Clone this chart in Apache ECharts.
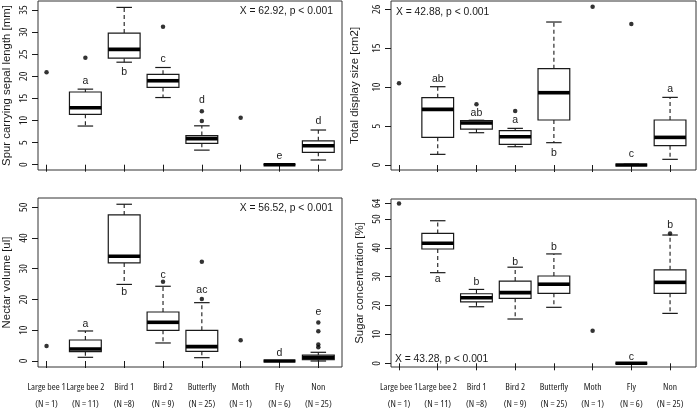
<!DOCTYPE html>
<html>
<head>
<meta charset="utf-8">
<script src="https://cdn.jsdelivr.net/npm/echarts@6/dist/echarts.min.js"></script>
<style>
html,body{margin:0;padding:0;background:#fff;}
#chart{width:698px;height:416px;}
</style>
</head>
<body>
<div id="chart"></div>
<script>
// ---------- data ----------
const categories = ['Large bee 1', 'Large bee 2', 'Bird 1', 'Bird 2', 'Butterfly', 'Moth', 'Fly', 'Non'];
const sampleLabels = ['(N = 1)', '(N = 11)', '(N =8)', '(N = 9)', '(N = 25)', '(N = 1)', '(N = 6)', '(N = 25)'];

// boxes: [lower whisker, Q1, median, Q3, upper whisker]; null = single observation only
const spurBoxes = [null, [8.75, 11.4, 12.9, 16.45, 17.1], [23.2, 24.1, 26.1, 29.8, 35.6], [15.2, 17.5, 19.0, 20.45, 22.0],
  [3.3, 4.84, 5.9, 6.6, 8.8], null, [0, 0, 0, 0, 0], [1.06, 2.8, 4.3, 5.4, 7.85]];
const spurPoints = [[20.9], [24.2], [], [31.2], [9.9, 12.1], [10.6], [], []];
const spurLetters = ['', 'a', 'b', 'c', 'd', '', 'e', 'd'];
const spurLetterY = [null, 18.9, 21.0, 23.9, 14.6, null, 2.0, 9.9];
const spurTicks = [0, 5, 10, 15, 20, 25, 30, 35];
const spurTickLabels = ['0', '5', '10', '15', '20', '25', '30', '35'];
const spurStat = 'X = 62.92, p < 0.001';

// display axis is broken: top tick is labelled 26
const displayBoxes = [null, [1.37, 3.56, 7.15, 8.65, 10.06], [4.15, 4.62, 5.4, 5.7, 5.75], [2.35, 2.66, 3.64, 4.41, 4.71],
  [2.87, 5.78, 9.29, 12.37, 18.37], null, [0, 0, 0, 0, 0.1], [0.73, 2.48, 3.55, 5.78, 8.69]];
const displayPoints = [[10.5], [], [7.8], [6.94], [], [20.33], [18.1], []];
const displayLetters = ['', 'ab', 'ab', 'a', 'b', '', 'c', 'a'];
const displayLetterY = [null, 11.05, 6.64, 5.78, 1.58, null, 1.37, 9.72];
const displayTicks = [0, 5, 10, 15, 20];
const displayTickLabels = ['0', '5', '10', '15', '26'];
const displayStat = 'X = 42.88, p < 0.001';

const nectarBoxes = [null, [1.2, 3.03, 3.9, 6.83, 9.76], [24.9, 31.9, 34.06, 47.5, 50.97], [5.86, 9.97, 12.58, 15.94, 24.3],
  [1.08, 3.15, 4.66, 9.97, 18.97], null, [0, 0, 0, 0, 0], [0, 0.44, 1.2, 1.95, 2.83]];
const nectarPoints = [[4.88], [], [], [25.8], [20.2, 32.3], [6.72], [], [4.5, 5.4, 9.7, 12.5]];
const nectarLetters = ['', 'a', 'b', 'c', 'ac', '', 'd', 'e'];
const nectarLetterY = [null, 12.0, 22.5, 28.0, 22.9, null, 2.5, 16.0];
const nectarTicks = [0, 10, 20, 30, 40, 50];
const nectarTickLabels = ['0', '10', '20', '30', '40', '50'];
const nectarStat = 'X = 56.52, p < 0.001';

// sugar axis is broken: top tick (labelled 64) sits just above 50
const sugarBoxes = [null, [31.4, 39.6, 41.6, 45.0, 49.4], [19.6, 21.3, 22.7, 24.1, 25.6], [15.35, 22.5, 24.5, 28.5, 33.3],
  [19.4, 24.25, 27.4, 30.25, 37.9], null, [0, 0, 0, 0, 0], [17.3, 24.25, 28.05, 32.4, 44.45]];
const sugarPoints = [[55.4], [], [], [], [], [11.3], [], [45.0]];
const sugarLetters = ['', 'a', 'b', 'b', 'b', '', 'c', 'b'];
const sugarLetterY = [null, 29.2, 28.1, 35.2, 40.2, null, 2.3, 47.9];
const sugarTicks = [0, 10, 20, 30, 40, 50, 55.4];
const sugarTickLabels = ['0', '10', '20', '30', '40', '50', '64'];
const sugarStat = 'X = 43.28, p < 0.001';

const yNames = ['Spur carrying sepal length [mm]', 'Total display size [cm2]', 'Nectar volume [ul]', 'Sugar concentration [%]'];

// ---------- chart ----------
const FONT = '"Liberation Sans", Arial, sans-serif';
const NARROW = '"Open Sans", "Liberation Sans", sans-serif';
const INK = '#1a1a1a';
const xTicks = categories.map((c, i) => i + 1);
// a leading blank label absorbs ECharts' min-label overlap check
const xLabelValues = [0.9].concat(xTicks);

const panels = [
  {boxes: spurBoxes, points: spurPoints, letters: spurLetters, letterY: spurLetterY, ticks: spurTicks, tickLabels: spurTickLabels,
   grid: {left: 38, top: 1, width: 304, height: 169}, xr: [0.78, 8.61], yr: [-1.2, 37.05], xl: false, name: yNames[0], nameGap: 26},
  {boxes: displayBoxes, points: displayPoints, letters: displayLetters, letterY: displayLetterY, ticks: displayTicks, tickLabels: displayTickLabels,
   grid: {left: 391, top: 1, width: 305, height: 169}, xr: [0.793, 8.67], yr: [-0.64, 21.07], xl: false, name: yNames[1], nameGap: 31},
  {boxes: nectarBoxes, points: nectarPoints, letters: nectarLetters, letterY: nectarLetterY, ticks: nectarTicks, tickLabels: nectarTickLabels,
   grid: {left: 38, top: 198, width: 304, height: 169}, xr: [0.78, 8.61], yr: [-1.95, 53.0], xl: true, name: yNames[2], nameGap: 26},
  {boxes: sugarBoxes, points: sugarPoints, letters: sugarLetters, letterY: sugarLetterY, ticks: sugarTicks, tickLabels: sugarTickLabels,
   grid: {left: 391, top: 199, width: 305, height: 168}, xr: [0.793, 8.67], yr: [-1.28, 56.93], xl: true, name: yNames[3], nameGap: 26}
];

function renderBox(params, api) {
  const x = api.value(0);
  const lo = api.value(1), q1 = api.value(2), med = api.value(3), q3 = api.value(4), hi = api.value(5);
  const half = api.size([0.41, 0])[0];
  const cap = api.size([0.2, 0])[0];
  const pLo = api.coord([x, lo]), pQ1 = api.coord([x, q1]), pMed = api.coord([x, med]);
  const pQ3 = api.coord([x, q3]), pHi = api.coord([x, hi]);
  const cx = pMed[0];
  const lineStyle = {stroke: INK, lineWidth: 1.2};
  const dashStyle = {stroke: INK, lineWidth: 1.1, lineDash: [4, 3]};
  return {
    type: 'group',
    children: [
      {type: 'line', shape: {x1: cx, y1: pQ3[1], x2: cx, y2: pHi[1]}, style: dashStyle},
      {type: 'line', shape: {x1: cx, y1: pQ1[1], x2: cx, y2: pLo[1]}, style: dashStyle},
      {type: 'line', shape: {x1: cx - cap, y1: pHi[1], x2: cx + cap, y2: pHi[1]}, style: lineStyle},
      {type: 'line', shape: {x1: cx - cap, y1: pLo[1], x2: cx + cap, y2: pLo[1]}, style: lineStyle},
      {type: 'rect', shape: {x: cx - half, y: pQ3[1], width: half * 2, height: pQ1[1] - pQ3[1]},
       style: {fill: '#fff', stroke: INK, lineWidth: 1.2}},
      {type: 'line', shape: {x1: cx - half, y1: pMed[1], x2: cx + half, y2: pMed[1]}, style: {stroke: '#000', lineWidth: 3.6}}
    ]
  };
}

function renderLetter(params, api, texts) {
  const p = api.coord([api.value(0), api.value(1)]);
  return {
    type: 'text', x: p[0], y: p[1],
    style: {text: texts[params.dataIndex], textAlign: 'center', textVerticalAlign: 'middle',
            fill: INK, font: '10.5px ' + FONT}
  };
}

function xLabel(v) {
  const i = Math.round(v) - 1;
  if (Math.abs(v - Math.round(v)) > 1e-6 || i < 0 || i >= categories.length) return '';
  return categories[i] + '\n' + sampleLabels[i];
}

const grids = [], xAxes = [], yAxes = [], series = [];
panels.forEach((pn, k) => {
  grids.push(Object.assign({show: true, borderColor: '#333', borderWidth: 1, backgroundColor: '#fff'}, pn.grid));
  xAxes.push({
    type: 'value', gridIndex: k, min: pn.xr[0], max: pn.xr[1],
    axisLine: {show: false}, splitLine: {show: false},
    axisTick: {show: true, customValues: xTicks, length: 7, lineStyle: {color: INK}},
    axisLabel: {show: pn.xl, customValues: xLabelValues, showMinLabel: false, showMaxLabel: true, hideOverlap: false,
      margin: 12, fontFamily: NARROW, fontWeight: 'condensed', fontSize: 9.6, lineHeight: 17, color: INK, formatter: xLabel}
  });
  yAxes.push({
    type: 'value', gridIndex: k, min: pn.yr[0], max: pn.yr[1],
    name: pn.name, nameLocation: 'middle', nameGap: pn.nameGap, nameRotate: 90,
    nameTextStyle: {fontFamily: FONT, fontSize: 11.4, color: INK},
    axisLine: {show: false}, splitLine: {show: false},
    axisTick: {show: true, customValues: pn.ticks, length: 6, lineStyle: {color: INK}},
    axisLabel: {show: true, customValues: pn.ticks, showMinLabel: true, showMaxLabel: true, hideOverlap: false,
      rotate: 90, align: 'center', verticalAlign: 'bottom', margin: 9, fontFamily: NARROW, fontWeight: 'condensed',
      fontSize: 11, color: INK,
      formatter: v => { const i = pn.ticks.findIndex(t => Math.abs(t - v) < 1e-6); return i >= 0 ? pn.tickLabels[i] : ''; }}
  });
  const boxData = [];
  pn.boxes.forEach((b, i) => { if (b) boxData.push([i + 1].concat(b)); });
  series.push({type: 'custom', xAxisIndex: k, yAxisIndex: k, renderItem: renderBox, data: boxData, silent: true, z: 2});
  const ptData = [];
  pn.points.forEach((arr, i) => arr.forEach(v => ptData.push([i + 1, v])));
  series.push({type: 'scatter', xAxisIndex: k, yAxisIndex: k, data: ptData, symbol: 'circle', symbolSize: 4.5,
    itemStyle: {color: '#000'}, silent: true, z: 3});
  const ltData = [], ltText = [];
  pn.letters.forEach((t, i) => { if (t) { ltData.push([i + 1, pn.letterY[i]]); ltText.push(t); } });
  series.push({type: 'custom', xAxisIndex: k, yAxisIndex: k, data: ltData, silent: true, z: 4,
    renderItem: (params, api) => renderLetter(params, api, ltText)});
});

const statStyle = {fontFamily: FONT, fontSize: 10.3, fontWeight: 'normal', color: INK};
const option = {
  backgroundColor: '#fff',
  animation: false,
  title: [
    {text: spurStat, right: 365, top: 6, padding: 0, textStyle: statStyle},
    {text: displayStat, left: 396, top: 7, padding: 0, textStyle: statStyle},
    {text: nectarStat, right: 365, top: 203, padding: 0, textStyle: statStyle},
    {text: sugarStat, left: 395, top: 354, padding: 0, textStyle: statStyle}
  ],
  grid: grids, xAxis: xAxes, yAxis: yAxes, series: series
};
const chart = echarts.init(document.getElementById('chart'), null, {renderer: 'canvas'});
chart.setOption(option);
</script>
</body>
</html>
